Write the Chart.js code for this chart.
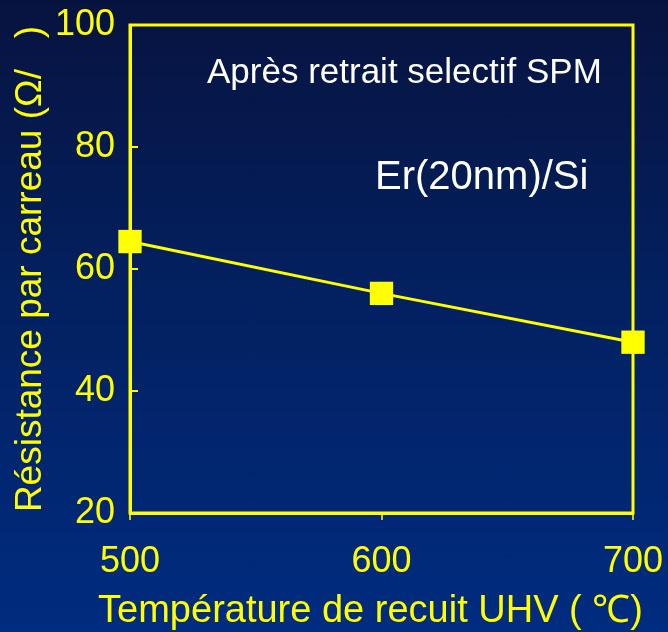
<!DOCTYPE html>
<html lang="fr">
<head>
<meta charset="UTF-8"/>
<title>Résistance par carreau - Er(20nm)/Si</title>
<script src="https://cdn.jsdelivr.net/npm/chart.js@4.4.0/dist/chart.umd.min.js"></script>
<style>
  html, body { margin: 0; padding: 0; }
  body {
    width: 668px; height: 632px; overflow: hidden;
    background: linear-gradient(to bottom, #07133f 0%, #03205f 45%, #002c80 100%);
  }
  canvas { display: block; }
</style>
</head>
<body>
<canvas id="chart" width="668" height="632"></canvas>
<script>
const temperatures = [500, 600, 700];
const resistance = [64.5, 56, 48];
const xTicks = [500, 600, 700];
const yTicks = [20, 40, 60, 80, 100];
const notes = ['Après retrait selectif SPM', 'Er(20nm)/Si'];
const xTitle = 'Température de recuit UHV ( ℃)';
const yTitle = 'Résistance par carreau (Ω/   )';

const YELLOW = '#ffff00';
const FONT = '"Liberation Sans", Arial, Helvetica, sans-serif';

// labels may hang past the plot edges; keep the plot area where the layout puts it
function noOverhang(s) {
  s.paddingTop = 0; s.paddingBottom = 0; s.paddingLeft = 0; s.paddingRight = 0;
}

// box around the plot area plus inward ticks on the left axis
const frame = {
  id: 'frame',
  afterDatasetsDraw(chart) {
    const {ctx, chartArea: a, scales: {y}} = chart;
    ctx.save();
    ctx.strokeStyle = YELLOW;
    ctx.lineWidth = 3;
    ctx.strokeRect(a.left, a.top, a.right - a.left, a.bottom - a.top);
    ctx.lineWidth = 2;
    yTicks.slice(1, -1).forEach(v => {
      const py = y.getPixelForValue(v);
      ctx.beginPath();
      ctx.moveTo(a.left, py);
      ctx.lineTo(a.left + 8, py);
      ctx.stroke();
    });
    ctx.restore();
  }
};

// white captions inside the plot, and the x title which runs wider than the plot
const captions = {
  id: 'captions',
  afterDraw(chart) {
    const {ctx, chartArea: a} = chart;
    ctx.save();
    ctx.fillStyle = '#ffffff';
    ctx.textBaseline = 'alphabetic';
    ctx.textAlign = 'left';
    ctx.font = '35px ' + FONT;
    ctx.fillText(notes[0], a.left + 77, a.top + 58);
    ctx.font = '40px ' + FONT;
    ctx.fillText(notes[1], a.left + 245, a.top + 164);

    ctx.fillStyle = YELLOW;
    ctx.textAlign = 'center';
    ctx.font = '38px ' + FONT;
    ctx.fillText(xTitle, (a.left + a.right) / 2 - 11, chart.height - 10);
    ctx.restore();
  }
};

new Chart(document.getElementById('chart').getContext('2d'), {
  type: 'line',
  data: {
    datasets: [{
      data: temperatures.map((t, i) => ({x: t, y: resistance[i]})),
      borderColor: YELLOW,
      borderWidth: 3,
      backgroundColor: YELLOW,
      pointStyle: 'rect',
      pointRadius: 16.5,
      pointBorderWidth: 0,
      tension: 0,
      clip: false
    }]
  },
  options: {
    responsive: false,
    animation: false,
    layout: { padding: { top: 25, right: 35, left: 0, bottom: 0 } },
    plugins: { legend: { display: false }, tooltip: { enabled: false } },
    scales: {
      x: {
        type: 'linear',
        min: 500, max: 700,
        afterBuildTicks: s => { s.ticks = xTicks.map(v => ({value: v})); },
        afterFit: s => { s.height = 119; noOverhang(s); },
        grid: { drawOnChartArea: false, drawTicks: true, tickLength: 7, color: '#c8c832', lineWidth: 2 },
        border: { color: YELLOW, width: 3 },
        ticks: { color: YELLOW, font: { family: FONT, size: 36 }, padding: 20, maxRotation: 0 }
      },
      y: {
        min: 20, max: 100,
        afterBuildTicks: s => { s.ticks = yTicks.map(v => ({value: v})); },
        afterFit: s => { s.width = 130; noOverhang(s); },
        grid: { display: false },
        border: { color: YELLOW, width: 3 },
        ticks: { color: YELLOW, font: { family: FONT, size: 36 }, padding: 7 },
        title: {
          display: true,
          text: yTitle,
          color: YELLOW,
          font: { family: FONT, size: 37 },
          padding: 9
        }
      }
    }
  },
  plugins: [frame, captions]
});
</script>
</body>
</html>
